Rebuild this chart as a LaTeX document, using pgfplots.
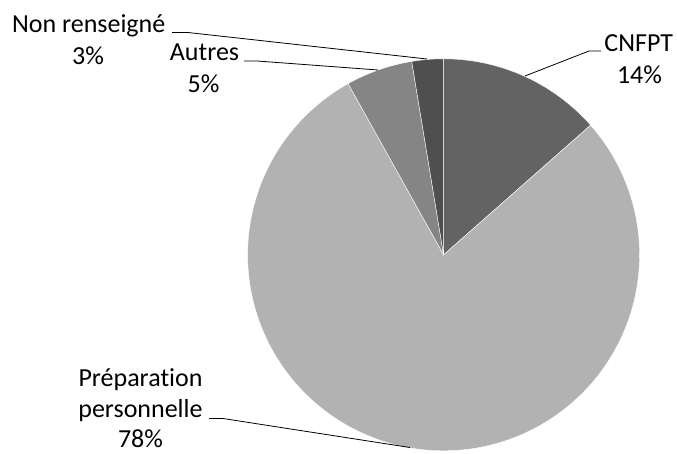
\documentclass[border=0pt]{standalone}
\usepackage{pgfplots}
\pgfplotsset{compat=1.18}
\usepackage{fontspec}
\setmainfont{Carlito}[Ligatures={NoCommon}]
\definecolor{cCNFPT}{HTML}{636363}
\definecolor{cPrep}{HTML}{B2B2B2}
\definecolor{cAutres}{HTML}{858585}
\definecolor{cNR}{HTML}{4F4F4F}
% shares in percent (clockwise from 12 o'clock)
\def\pA{13.5}% CNFPT
\def\pB{78.4}% Preparation personnelle
\def\pC{5.5}%  Autres
\def\pD{2.6}%  Non renseigne
\pgfmathsetmacro\aA{3.6*\pA}
\pgfmathsetmacro\aB{3.6*(\pA+\pB)}
\pgfmathsetmacro\aC{3.6*(\pA+\pB+\pC)}
\pgfmathsetmacro\aD{3.6*(\pA+\pB+\pC+\pD)}
\def\cx{443.6}
\def\cy{254.8}
\def\rr{196}
\begin{document}
\begin{tikzpicture}
\begin{axis}[name=ax, x=1pt, y=1pt, xmin=0, xmax=677, ymin=0, ymax=454,
  y dir=reverse, scale only axis, hide axis, clip=false, enlargelimits=false]
\addplot[fill=cCNFPT, draw=white, line width=0.4pt, domain=0:\aA, samples=60]
  ({\cx+\rr*sin(x)},{\cy-\rr*cos(x)}) -- (axis cs:\cx,\cy) -- cycle;
\addplot[fill=cPrep, draw=white, line width=0.4pt, domain=\aA:\aB, samples=200]
  ({\cx+\rr*sin(x)},{\cy-\rr*cos(x)}) -- (axis cs:\cx,\cy) -- cycle;
\addplot[fill=cAutres, draw=white, line width=0.4pt, domain=\aB:\aC, samples=30]
  ({\cx+\rr*sin(x)},{\cy-\rr*cos(x)}) -- (axis cs:\cx,\cy) -- cycle;
\addplot[fill=cNR, draw=white, line width=0.4pt, domain=\aC:\aD, samples=20]
  ({\cx+\rr*sin(x)},{\cy-\rr*cos(x)}) -- (axis cs:\cx,\cy) -- cycle;
% leader lines
\addplot[black, line width=0.8pt, mark=none] coordinates {(601,51) (589,51) (525,76)};
\addplot[black, line width=0.8pt, mark=none] coordinates {(172,32.5) (188,32.5) (427,59)};
\addplot[black, line width=0.8pt, mark=none] coordinates {(244,61) (257,61) (378,70)};
\addplot[black, line width=0.8pt, mark=none] coordinates {(209,418.5) (223,418.5) (410,447.5)};
% labels
\begin{scope}[every node/.style={anchor=base, inner sep=0pt, font=\fontsize{26}{31}\selectfont}]
\node at (axis cs:638.7,51.7) {CNFPT};
\node at (axis cs:639.5,83.5) {14\%};
\node at (axis cs:88.7,32.3) {Non renseigné};
\node at (axis cs:88,65) {3\%};
\node at (axis cs:204.5,61) {Autres};
\node at (axis cs:203.5,93) {5\%};
\node at (axis cs:140.5,386) {Préparation};
\node at (axis cs:140.5,417.5) {personnelle};
\node at (axis cs:140.5,447.5) {78\%};
\end{scope}
\end{axis}
\pgfresetboundingbox
\path (ax.south west) rectangle (ax.north east);
\end{tikzpicture}
\end{document}
